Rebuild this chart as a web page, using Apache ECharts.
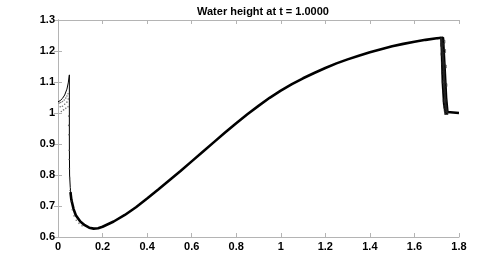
<!DOCTYPE html>
<html>
<head>
<meta charset="utf-8">
<script src="https://cdn.jsdelivr.net/npm/echarts@6/dist/echarts.min.js"></script>
<style>
html,body{margin:0;padding:0;background:#fff;}
#c{width:499px;height:256px;}
</style>
</head>
<body>
<div id="c"></div>
<script>
// Title and tick labels
var titleText = 'Water height at t = 1.0000';
var xTicks = [0, 0.2, 0.4, 0.6, 0.8, 1, 1.2, 1.4, 1.6, 1.8];
var yTicks = [0.6, 0.7, 0.8, 0.9, 1, 1.1, 1.2, 1.3];

// Thin reference line (exact solution) near the left spike
var xExact = [0, 0.01, 0.02, 0.03, 0.04, 0.046, 0.051, 0.051, 0.052, 0.055, 0.06];
var yExact = [1.036, 1.040, 1.047, 1.058, 1.077, 1.097, 1.123, 0.90, 0.80, 0.76, 0.72];

// Main (thick) solution curve
var xMain = [0.056, 0.06, 0.07, 0.08, 0.10, 0.12, 0.14, 0.16, 0.18, 0.20, 0.25, 0.30, 0.35, 0.40, 0.45, 0.50, 0.55, 0.60, 0.65, 0.70, 0.75, 0.80, 0.85, 0.90, 0.95, 1.00, 1.05, 1.10, 1.15, 1.20, 1.25, 1.30, 1.35, 1.40, 1.45, 1.50, 1.55, 1.60, 1.65, 1.70, 1.728, 1.735, 1.742, 1.748, 1.755, 1.80];
var yMain = [0.745, 0.72, 0.69, 0.67, 0.65, 0.638, 0.630, 0.627, 0.628, 0.633, 0.650, 0.671, 0.696, 0.724, 0.753, 0.783, 0.813, 0.844, 0.875, 0.906, 0.937, 0.967, 0.996, 1.023, 1.049, 1.072, 1.093, 1.112, 1.129, 1.145, 1.160, 1.173, 1.185, 1.196, 1.206, 1.215, 1.223, 1.230, 1.236, 1.241, 1.243, 1.15, 1.05, 1.003, 1.0, 1.0];

// Leading edge and middle of the steep front (numerical band)
var xEdge = [1.70, 1.72, 1.722, 1.726, 1.732, 1.74, 1.75];
var yEdge = [1.241, 1.243, 1.20, 1.10, 1.03, 1.0, 1.0];
var xMid = [1.72, 1.725, 1.73, 1.735, 1.74, 1.746];
var yMid = [1.243, 1.243, 1.16, 1.08, 1.02, 1.0];

// Scattered numerical markers near the left spike
var xDots = [0.005, 0.012, 0.02, 0.028, 0.035, 0.04, 0.045, 0.01, 0.02, 0.03, 0.04, 0.046, 0.015, 0.025, 0.035, 0.045, 0.048, 0.048, 0.049, 0.05, 0.05, 0.051, 0.052, 0.054, 0.058, 0.064, 0.072, 0.082, 0.094, 0.108];
var yDots = [1.032, 1.034, 1.037, 1.042, 1.048, 1.055, 1.062, 1.02, 1.022, 1.028, 1.035, 1.045, 1.005, 1.01, 1.015, 1.02, 0.99, 0.96, 0.93, 0.88, 0.85, 0.82, 0.79, 0.75, 0.715, 0.688, 0.668, 0.654, 0.644, 0.636];

// Markers in the right-hand steep front
var xFront = [1.724, 1.726, 1.728, 1.73, 1.732, 1.734, 1.736, 1.738, 1.74, 1.742, 1.744, 1.73, 1.733, 1.736, 1.739];
var yFront = [1.22, 1.19, 1.16, 1.13, 1.10, 1.07, 1.04, 1.02, 1.01, 1.0, 1.0, 1.23, 1.2, 1.15, 1.09];

function zip(a, b) { var r = []; for (var i = 0; i < a.length; i++) r.push([a[i], b[i]]); return r; }

var fam = 'Liberation Sans, Arial, Helvetica, sans-serif';
var labelStyle = { color: '#000', fontWeight: 'bold', fontSize: 11, fontFamily: fam };
var axisLineStyle = { lineStyle: { color: '#b4b4b4', width: 1 } };
var tickStyle = { show: true, inside: true, length: 4, lineStyle: { color: '#b4b4b4' } };
function fmt(v) { return String(+v.toFixed(1)); }

var chart = echarts.init(document.getElementById('c'), null, { renderer: 'canvas' });
chart.setOption({
  backgroundColor: '#fff',
  animation: false,
  title: {
    text: titleText, left: 258, top: 1, textAlign: 'center',
    textStyle: { fontSize: 11, fontWeight: 'bold', color: '#000', fontFamily: fam }
  },
  grid: { left: 58, right: 40, top: 20, bottom: 19, containLabel: false, outerBoundsMode: 'none' },
  xAxis: [
    { type: 'value', min: 0, max: 1.8, interval: 0.2, position: 'bottom',
      axisLine: axisLineStyle, axisTick: tickStyle, splitLine: { show: false },
      axisLabel: Object.assign({ margin: 4, formatter: fmt }, labelStyle) },
    { type: 'value', min: 0, max: 1.8, interval: 0.2, position: 'top',
      axisLine: axisLineStyle, axisTick: tickStyle, splitLine: { show: false }, axisLabel: { show: false } }
  ],
  yAxis: [
    { type: 'value', min: 0.6, max: 1.3, interval: 0.1, position: 'left',
      axisLine: Object.assign({ show: true }, axisLineStyle), axisTick: tickStyle, splitLine: { show: false },
      axisLabel: Object.assign({ margin: 3, formatter: fmt }, labelStyle) },
    { type: 'value', min: 0.6, max: 1.3, interval: 0.1, position: 'right',
      axisLine: Object.assign({ show: true }, axisLineStyle), axisTick: tickStyle, splitLine: { show: false }, axisLabel: { show: false } }
  ],
  series: [
    { type: 'line', data: zip(xExact, yExact), showSymbol: false, symbol: 'none',
      lineStyle: { color: '#000', width: 1 }, z: 3 },
    { type: 'line', data: zip(xMain, yMain), showSymbol: false, symbol: 'none',
      lineStyle: { color: '#000', width: 2.6 }, z: 4 },
    { type: 'line', data: zip(xEdge, yEdge), showSymbol: false, symbol: 'none',
      lineStyle: { color: '#000', width: 2 }, z: 4 },
    { type: 'line', data: zip(xMid, yMid), showSymbol: false, symbol: 'none',
      lineStyle: { color: '#222', width: 2 }, z: 4 },
    { type: 'scatter', data: zip(xDots, yDots), symbol: 'circle', symbolSize: 1.6,
      itemStyle: { color: '#555' }, z: 5 },
    { type: 'scatter', data: zip(xFront, yFront), symbol: 'rect', symbolSize: 3,
      itemStyle: { color: 'none', borderColor: '#222', borderWidth: 0.8 }, z: 5 }
  ]
});
</script>
</body>
</html>
